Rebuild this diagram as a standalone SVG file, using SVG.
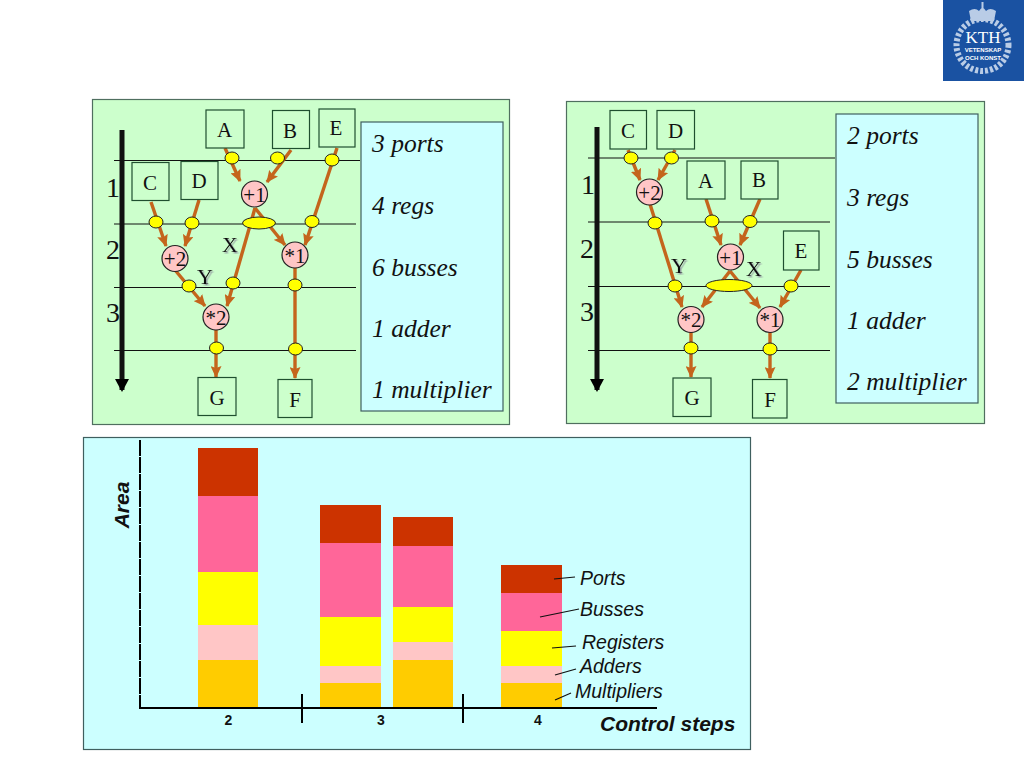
<svg xmlns="http://www.w3.org/2000/svg" width="1024" height="768" viewBox="0 0 1024 768">
<style>
.panel{fill:#ccffcc;stroke:#4f6f5f;stroke-width:1.2}
.side{fill:#ccffff;stroke:#3f5f5f;stroke-width:1.2}
.box rect{fill:#ccffcc;stroke:#1f4f2f;stroke-width:1.2}
text{font-family:"Liberation Serif","Times New Roman",serif;fill:#111}
.box text,.op text,.sl{text-anchor:middle}
.box text{font-size:21px}
.op circle{fill:#ffc6c6;stroke:#222;stroke-width:1.2}
.op text{font-size:21px}
.reg{fill:#ffff00;stroke:#222;stroke-width:1}
.cn line{stroke:#c4651c;stroke-width:3.4;marker-end:url(#ah)}
.step{stroke:#111;stroke-width:1}
.step2{stroke:#111;stroke-width:5}
.num{font-size:28px;text-anchor:middle}
.it{font-size:25.500px;font-style:italic}
.sl{font-size:22px;filter:url(#sh)}
.lab{font-family:"Liberation Sans",Arial,sans-serif;font-style:italic;font-size:19.500px}
.big{font-family:"Liberation Sans",Arial,sans-serif;font-style:italic;font-weight:bold;font-size:21px}
.tick{font-family:"Liberation Sans",Arial,sans-serif;font-weight:bold;font-size:14px;text-anchor:middle}
.lead{stroke:#111;stroke-width:1.2}
.wt{fill:#fff;text-anchor:middle}
</style>
<defs>
<marker id="ah" markerUnits="userSpaceOnUse" markerWidth="12" markerHeight="11" refX="11" refY="5.500" orient="auto"><path d="M0 0L12 5.500L0 11L2 5.500Z" fill="#c4651c"/></marker>
<marker id="bk" markerUnits="userSpaceOnUse" markerWidth="14" markerHeight="14" refX="11" refY="7" orient="auto"><path d="M0 0L13 7L0 14Z" fill="#000"/></marker>
<filter id="sh" x="-30%" y="-30%" width="170%" height="170%"><feDropShadow dx="1.5" dy="1.5" stdDeviation="0.6" flood-color="#889" flood-opacity="0.8"/></filter>
</defs>

<g id="logo">
<rect x="943" y="0" width="81" height="81" fill="#1a52a2"/>
<circle cx="982.500" cy="45" r="26" fill="none" stroke="#b9cce6" stroke-width="6" stroke-dasharray="3 2"/>
<path d="M971 21L969 11Q975 7 979 11Q982.500 5 986 11Q990 7 996 11L994 21Z" fill="#b9cce6"/>
<path d="M982.500 2V9" stroke="#b9cce6" stroke-width="2"/>
<text class="wt" x="983" y="43" style="font-size:17px;fill:#fff">KTH</text>
<text class="wt" x="983" y="52" style="font:bold 6px 'Liberation Sans',sans-serif;fill:#fff">VETENSKAP</text>
<text class="wt" x="983" y="59.500" style="font:bold 6px 'Liberation Sans',sans-serif;fill:#fff">OCH KONST</text>
</g>

<g id="panel-left">
<rect class="panel" x="92.500" y="99.500" width="417" height="325"/>
<rect class="side" x="361" y="122" width="142" height="289"/>
<g class="it"><text x="372" y="152">3 ports</text><text x="372" y="214">4 regs</text><text x="372" y="276">6 busses</text><text x="372" y="337">1 adder</text><text x="372" y="398">1 multiplier</text></g>
<line class="step" x1="114" y1="160.500" x2="360" y2="160.500"/>
<line class="step" x1="114" y1="224" x2="356" y2="224"/>
<line class="step" x1="114" y1="287.500" x2="356" y2="287.500"/>
<line class="step" x1="114" y1="350.500" x2="356" y2="350.500"/>
<line class="step2" x1="122" y1="130" x2="122" y2="390" marker-end="url(#bk)"/>
<text class="num" x="113" y="197">1</text><text class="num" x="113" y="259">2</text><text class="num" x="113" y="322">3</text>
<text class="sl" x="230" y="252">X</text><text class="sl" x="205" y="284">Y</text>
</g>
<g id="connectors-left" class="cn">
<line x1="225" y1="148" x2="240" y2="181"/><line x1="291" y1="150" x2="267" y2="182"/><line x1="337" y1="148" x2="305" y2="245"/>
<line x1="151" y1="202" x2="166" y2="246"/><line x1="199" y1="200" x2="185" y2="246"/>
<line x1="255" y1="208" x2="285" y2="245"/><line x1="255" y1="208" x2="227" y2="306"/><line x1="175" y1="270" x2="205" y2="306"/>
<line x1="295" y1="268" x2="295" y2="378"/><line x1="216" y1="330" x2="216" y2="377"/>
</g>
<g id="l-A" class="box"><rect x="206" y="110" width="38" height="38"/><text x="224.500" y="137">A</text></g>
<g id="l-B" class="box"><rect x="272.500" y="110.500" width="37" height="38"/><text x="290" y="138">B</text></g>
<g id="l-E" class="box"><rect x="319" y="109" width="36" height="38"/><text x="336" y="135">E</text></g>
<g id="l-C" class="box"><rect x="132" y="162.500" width="37" height="38"/><text x="150" y="190">C</text></g>
<g id="l-D" class="box"><rect x="181" y="161.500" width="37" height="38"/><text x="199" y="188">D</text></g>
<g id="l-G" class="box"><rect x="198" y="377.500" width="38" height="38"/><text x="217" y="405">G</text></g>
<g id="l-F" class="box"><rect x="278" y="379.500" width="34" height="38"/><text x="295" y="407">F</text></g>
<g id="l-add1" class="op"><circle cx="254.500" cy="194" r="13"/><text x="254.500" y="202">+1</text></g>
<g id="l-add2" class="op"><circle cx="175" cy="258.500" r="13"/><text x="175" y="266">+2</text></g>
<g id="l-mul1" class="op"><circle cx="295" cy="255" r="13"/><text x="295" y="263">*1</text></g>
<g id="l-mul2" class="op"><circle cx="216" cy="317" r="13"/><text x="216" y="325">*2</text></g>
<g id="l-regs">
<ellipse class="reg" cx="232" cy="158" rx="7" ry="6"/><ellipse class="reg" cx="277.500" cy="158" rx="7" ry="6"/><ellipse class="reg" cx="332" cy="160" rx="7" ry="6"/>
<ellipse class="reg" cx="156" cy="222" rx="7" ry="6"/><ellipse class="reg" cx="192" cy="223" rx="7" ry="6"/><ellipse class="reg" cx="259" cy="223" rx="16.500" ry="6"/><ellipse class="reg" cx="312" cy="221.500" rx="7" ry="6"/>
<ellipse class="reg" cx="189" cy="286" rx="7" ry="6"/><ellipse class="reg" cx="233" cy="283" rx="7" ry="6"/><ellipse class="reg" cx="295" cy="285" rx="7" ry="6"/>
<ellipse class="reg" cx="216.500" cy="348" rx="7" ry="6"/><ellipse class="reg" cx="295.500" cy="349" rx="7" ry="6"/>
</g>

<g id="panel-right">
<rect class="panel" x="566.500" y="101.500" width="418" height="322"/>
<rect class="side" x="836" y="114" width="142" height="289"/>
<g class="it"><text x="847" y="144">2 ports</text><text x="847" y="206">3 regs</text><text x="847" y="268">5 busses</text><text x="847" y="329">1 adder</text><text x="847" y="390">2 multiplier</text></g>
<line class="step" x1="588" y1="158" x2="835" y2="158"/>
<line class="step" x1="588" y1="222" x2="830" y2="222"/>
<line class="step" x1="588" y1="286.500" x2="830" y2="286.500"/>
<line class="step" x1="588" y1="350.500" x2="830" y2="350.500"/>
<line class="step2" x1="597" y1="127" x2="597" y2="390" marker-end="url(#bk)"/>
<text class="num" x="588" y="194">1</text><text class="num" x="587" y="258">2</text><text class="num" x="587" y="321">3</text>
<text class="sl" x="679" y="273">Y</text><text class="sl" x="754" y="276">X</text>
</g>
<g id="connectors-right" class="cn">
<line x1="628" y1="150" x2="640" y2="180"/><line x1="675" y1="150" x2="658" y2="180"/><line x1="650" y1="204" x2="682" y2="307"/>
<line x1="706" y1="199" x2="721" y2="245"/><line x1="760" y1="199" x2="740" y2="245"/>
<line x1="730" y1="271" x2="702" y2="307"/><line x1="730" y1="271" x2="760" y2="308"/><line x1="801" y1="270" x2="780" y2="307"/>
<line x1="691" y1="332" x2="691" y2="377"/><line x1="770" y1="332" x2="770" y2="378"/>
</g>
<g id="r-C" class="box"><rect x="610" y="110.500" width="36.500" height="38.500"/><text x="628" y="138">C</text></g>
<g id="r-D" class="box"><rect x="657" y="110.500" width="37.500" height="38.500"/><text x="675.500" y="138">D</text></g>
<g id="r-A" class="box"><rect x="687" y="161" width="38" height="38"/><text x="705.500" y="188">A</text></g>
<g id="r-B" class="box"><rect x="741" y="161" width="37" height="38"/><text x="759" y="187">B</text></g>
<g id="r-E" class="box"><rect x="783.500" y="231" width="35.500" height="39"/><text x="801" y="258">E</text></g>
<g id="r-G" class="box"><rect x="673" y="378" width="38" height="38.500"/><text x="692" y="405">G</text></g>
<g id="r-F" class="box"><rect x="752.500" y="379.500" width="34.500" height="38.500"/><text x="770" y="407">F</text></g>
<g id="r-add2" class="op"><circle cx="649.500" cy="192" r="13"/><text x="649.500" y="200">+2</text></g>
<g id="r-add1" class="op"><circle cx="730.500" cy="257" r="13"/><text x="730.500" y="265">+1</text></g>
<g id="r-mul2" class="op"><circle cx="691" cy="319.500" r="13"/><text x="691" y="327">*2</text></g>
<g id="r-mul1" class="op"><circle cx="770" cy="319.500" r="13"/><text x="770" y="327">*1</text></g>
<g id="r-regs">
<ellipse class="reg" cx="631" cy="158" rx="7" ry="6"/><ellipse class="reg" cx="671.500" cy="158" rx="7" ry="6"/>
<ellipse class="reg" cx="655" cy="223" rx="7" ry="6"/><ellipse class="reg" cx="712" cy="221" rx="7" ry="6"/><ellipse class="reg" cx="750" cy="221.500" rx="7" ry="6"/>
<ellipse class="reg" cx="729" cy="285.500" rx="23" ry="6"/><ellipse class="reg" cx="675" cy="286" rx="7" ry="6"/><ellipse class="reg" cx="791" cy="286" rx="7" ry="6"/>
<ellipse class="reg" cx="691" cy="348" rx="7" ry="6"/><ellipse class="reg" cx="770" cy="349" rx="7" ry="6"/>
</g>

<g id="chart">
<rect class="side" x="83.500" y="437.500" width="667" height="312"/>
<g id="bar-2">
<rect x="198" y="448" width="60" height="48" fill="#cc3300"/><rect x="198" y="496" width="60" height="76" fill="#ff6699"/><rect x="198" y="572" width="60" height="53" fill="#ffff00"/><rect x="198" y="625" width="60" height="35" fill="#ffc6c6"/><rect x="198" y="660" width="60" height="47" fill="#ffcc00"/>
</g>
<g id="bar-3a">
<rect x="320" y="505" width="61" height="38" fill="#cc3300"/><rect x="320" y="543" width="61" height="74" fill="#ff6699"/><rect x="320" y="617" width="61" height="49" fill="#ffff00"/><rect x="320" y="666" width="61" height="17" fill="#ffc6c6"/><rect x="320" y="683" width="61" height="24" fill="#ffcc00"/>
</g>
<g id="bar-3b">
<rect x="393" y="517" width="60" height="29" fill="#cc3300"/><rect x="393" y="546" width="60" height="61" fill="#ff6699"/><rect x="393" y="607" width="60" height="35" fill="#ffff00"/><rect x="393" y="642" width="60" height="18" fill="#ffc6c6"/><rect x="393" y="660" width="60" height="47" fill="#ffcc00"/>
</g>
<g id="bar-4">
<rect x="501" y="565" width="61" height="28" fill="#cc3300"/><rect x="501" y="593" width="61" height="38" fill="#ff6699"/><rect x="501" y="631" width="61" height="35" fill="#ffff00"/><rect x="501" y="666" width="61" height="17" fill="#ffc6c6"/><rect x="501" y="683" width="61" height="24" fill="#ffcc00"/>
</g>
<line x1="140" y1="440" x2="140" y2="708" stroke="#000" stroke-width="2" stroke-dasharray="16 1"/>
<line x1="139" y1="708" x2="657" y2="708" stroke="#000" stroke-width="2"/>
<line x1="302" y1="694" x2="302" y2="723" stroke="#000" stroke-width="2"/>
<line x1="463" y1="694" x2="463" y2="723" stroke="#000" stroke-width="2"/>
<text class="tick" x="228.500" y="725">2</text><text class="tick" x="381" y="725">3</text><text class="tick" x="538" y="725">4</text>
<text class="big" x="600" y="731">Control steps</text>
<text class="big" transform="translate(129 505) rotate(-90)" text-anchor="middle">Area</text>
<line class="lead" x1="554" y1="579" x2="575" y2="577"/><line class="lead" x1="540" y1="617" x2="579" y2="609"/><line class="lead" x1="552" y1="648" x2="576" y2="646"/><line class="lead" x1="555" y1="675" x2="576" y2="669"/><line class="lead" x1="555" y1="700" x2="571" y2="693"/>
<text class="lab" x="580" y="585">Ports</text><text class="lab" x="580" y="616">Busses</text><text class="lab" x="582" y="649">Registers</text><text class="lab" x="580" y="673">Adders</text><text class="lab" x="575" y="698">Multipliers</text>
</g>
</svg>
